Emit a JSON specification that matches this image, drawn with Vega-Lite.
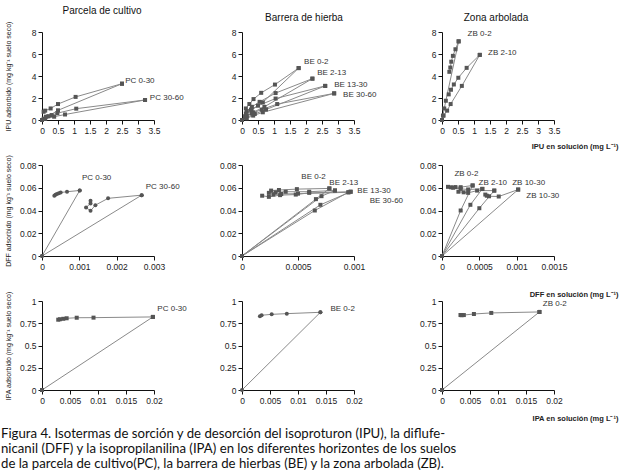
{
"$schema":"https://vega.github.io/schema/vega-lite/v6.json",
"padding":{"left":0,"top":6,"right":2,"bottom":2},
"background":"white",
"columns":3,
"bounds":"flush",
"spacing":{"column":88,"row":45},
"title":{"text":["Figura 4. Isotermas de sorción y de desorción del isoproturon (IPU), la diflufe-","nicanil (DFF) y la isopropilanilina (IPA) en los diferentes horizontes de los suelos","de la parcela de cultivo(PC), la barrera de hierbas (BE) y la zona arbolada (ZB)."],"orient":"bottom","anchor":"start","frame":"bounds","offset":6,"font":"Lato","fontSize":13.2,"fontWeight":"normal","lineHeight":15,"color":"#111","dx":-3},
"datasets":{
"iso":[
{"p":"IPU-PC","s":"PC 0-30","b":"a","i":0,"x":0,"y":0},{"p":"IPU-PC","s":"PC 0-30","b":"a","i":1,"x":0.05,"y":0.12},{"p":"IPU-PC","s":"PC 0-30","b":"a","i":2,"x":0.2,"y":0.35},{"p":"IPU-PC","s":"PC 0-30","b":"a","i":3,"x":0.5,"y":0.88},{"p":"IPU-PC","s":"PC 0-30","b":"a","i":4,"x":2.5,"y":3.3},
{"p":"IPU-PC","s":"PC 0-30","b":"d","i":0,"x":2.5,"y":3.3},{"p":"IPU-PC","s":"PC 0-30","b":"d","i":1,"x":1.05,"y":2.1},{"p":"IPU-PC","s":"PC 0-30","b":"d","i":2,"x":0.5,"y":1.45},{"p":"IPU-PC","s":"PC 0-30","b":"d","i":3,"x":0.27,"y":1.05},{"p":"IPU-PC","s":"PC 0-30","b":"d","i":4,"x":0.1,"y":0.85},{"p":"IPU-PC","s":"PC 0-30","b":"d","i":5,"x":0.05,"y":0.75},
{"p":"IPU-PC","s":"PC 30-60","b":"a","i":0,"x":0,"y":0},{"p":"IPU-PC","s":"PC 30-60","b":"a","i":1,"x":0.1,"y":0.1},{"p":"IPU-PC","s":"PC 30-60","b":"a","i":2,"x":0.38,"y":0.3},{"p":"IPU-PC","s":"PC 30-60","b":"a","i":3,"x":0.72,"y":0.5},{"p":"IPU-PC","s":"PC 30-60","b":"a","i":4,"x":3.22,"y":1.82},
{"p":"IPU-PC","s":"PC 30-60","b":"d","i":0,"x":3.22,"y":1.82},{"p":"IPU-PC","s":"PC 30-60","b":"d","i":1,"x":1.07,"y":1.03},{"p":"IPU-PC","s":"PC 30-60","b":"d","i":2,"x":0.48,"y":0.62},{"p":"IPU-PC","s":"PC 30-60","b":"d","i":3,"x":0.3,"y":0.45},{"p":"IPU-PC","s":"PC 30-60","b":"d","i":4,"x":0.12,"y":0.3},

{"p":"IPU-BE","s":"BE 0-2","b":"a","i":0,"x":0,"y":0},{"p":"IPU-BE","s":"BE 0-2","b":"a","i":1,"x":0.1,"y":0.35},{"p":"IPU-BE","s":"BE 0-2","b":"a","i":2,"x":0.3,"y":0.9},{"p":"IPU-BE","s":"BE 0-2","b":"a","i":3,"x":0.65,"y":1.6},{"p":"IPU-BE","s":"BE 0-2","b":"a","i":4,"x":1.77,"y":4.72},
{"p":"IPU-BE","s":"BE 0-2","b":"d","i":0,"x":1.77,"y":4.72},{"p":"IPU-BE","s":"BE 0-2","b":"d","i":1,"x":1.03,"y":3.22},{"p":"IPU-BE","s":"BE 0-2","b":"d","i":2,"x":0.6,"y":2.47},{"p":"IPU-BE","s":"BE 0-2","b":"d","i":3,"x":0.36,"y":1.9},{"p":"IPU-BE","s":"BE 0-2","b":"d","i":4,"x":0.23,"y":1.45},{"p":"IPU-BE","s":"BE 0-2","b":"d","i":5,"x":0.12,"y":1.05},
{"p":"IPU-BE","s":"BE 2-13","b":"a","i":0,"x":0,"y":0},{"p":"IPU-BE","s":"BE 2-13","b":"a","i":1,"x":0.1,"y":0.25},{"p":"IPU-BE","s":"BE 2-13","b":"a","i":2,"x":0.35,"y":0.7},{"p":"IPU-BE","s":"BE 2-13","b":"a","i":3,"x":0.7,"y":1.2},{"p":"IPU-BE","s":"BE 2-13","b":"a","i":4,"x":2.2,"y":3.76},
{"p":"IPU-BE","s":"BE 2-13","b":"d","i":0,"x":2.2,"y":3.76},{"p":"IPU-BE","s":"BE 2-13","b":"d","i":1,"x":1.05,"y":2.45},{"p":"IPU-BE","s":"BE 2-13","b":"d","i":2,"x":0.55,"y":1.65},{"p":"IPU-BE","s":"BE 2-13","b":"d","i":3,"x":0.31,"y":1.2},{"p":"IPU-BE","s":"BE 2-13","b":"d","i":4,"x":0.15,"y":0.8},
{"p":"IPU-BE","s":"BE 13-30","b":"a","i":0,"x":0,"y":0},{"p":"IPU-BE","s":"BE 13-30","b":"a","i":1,"x":0.12,"y":0.2},{"p":"IPU-BE","s":"BE 13-30","b":"a","i":2,"x":0.4,"y":0.55},{"p":"IPU-BE","s":"BE 13-30","b":"a","i":3,"x":0.75,"y":0.95},{"p":"IPU-BE","s":"BE 13-30","b":"a","i":4,"x":2.6,"y":3.1},
{"p":"IPU-BE","s":"BE 13-30","b":"d","i":0,"x":2.6,"y":3.1},{"p":"IPU-BE","s":"BE 13-30","b":"d","i":1,"x":1.05,"y":1.95},{"p":"IPU-BE","s":"BE 13-30","b":"d","i":2,"x":0.5,"y":1.3},{"p":"IPU-BE","s":"BE 13-30","b":"d","i":3,"x":0.28,"y":0.95},{"p":"IPU-BE","s":"BE 13-30","b":"d","i":4,"x":0.12,"y":0.6},
{"p":"IPU-BE","s":"BE 30-60","b":"a","i":0,"x":0,"y":0},{"p":"IPU-BE","s":"BE 30-60","b":"a","i":1,"x":0.15,"y":0.15},{"p":"IPU-BE","s":"BE 30-60","b":"a","i":2,"x":0.35,"y":0.4},{"p":"IPU-BE","s":"BE 30-60","b":"a","i":3,"x":0.65,"y":0.7},{"p":"IPU-BE","s":"BE 30-60","b":"a","i":4,"x":2.88,"y":2.42},
{"p":"IPU-BE","s":"BE 30-60","b":"d","i":0,"x":2.88,"y":2.42},{"p":"IPU-BE","s":"BE 30-60","b":"d","i":1,"x":1.1,"y":1.45},{"p":"IPU-BE","s":"BE 30-60","b":"d","i":2,"x":0.62,"y":0.95},{"p":"IPU-BE","s":"BE 30-60","b":"d","i":3,"x":0.3,"y":0.6},{"p":"IPU-BE","s":"BE 30-60","b":"d","i":4,"x":0.15,"y":0.4},

{"p":"IPU-ZB","s":"ZB 0-2","b":"a","i":0,"x":0,"y":0},{"p":"IPU-ZB","s":"ZB 0-2","b":"a","i":1,"x":0.03,"y":0.4},{"p":"IPU-ZB","s":"ZB 0-2","b":"a","i":2,"x":0.07,"y":1.05},{"p":"IPU-ZB","s":"ZB 0-2","b":"a","i":3,"x":0.12,"y":1.75},{"p":"IPU-ZB","s":"ZB 0-2","b":"a","i":4,"x":0.52,"y":7.15},
{"p":"IPU-ZB","s":"ZB 0-2","b":"d","i":0,"x":0.52,"y":7.15},{"p":"IPU-ZB","s":"ZB 0-2","b":"d","i":1,"x":0.42,"y":6.43},{"p":"IPU-ZB","s":"ZB 0-2","b":"d","i":2,"x":0.34,"y":5.83},{"p":"IPU-ZB","s":"ZB 0-2","b":"d","i":3,"x":0.29,"y":5.3},{"p":"IPU-ZB","s":"ZB 0-2","b":"d","i":4,"x":0.26,"y":4.77},{"p":"IPU-ZB","s":"ZB 0-2","b":"d","i":5,"x":0.23,"y":4.38},
{"p":"IPU-ZB","s":"ZB 2-10","b":"a","i":0,"x":0,"y":0},{"p":"IPU-ZB","s":"ZB 2-10","b":"a","i":1,"x":0.05,"y":0.4},{"p":"IPU-ZB","s":"ZB 2-10","b":"a","i":2,"x":0.16,"y":0.85},{"p":"IPU-ZB","s":"ZB 2-10","b":"a","i":3,"x":0.27,"y":1.45},{"p":"IPU-ZB","s":"ZB 2-10","b":"a","i":4,"x":0.62,"y":3.1},{"p":"IPU-ZB","s":"ZB 2-10","b":"a","i":5,"x":1.18,"y":5.92},
{"p":"IPU-ZB","s":"ZB 2-10","b":"d","i":0,"x":1.18,"y":5.92},{"p":"IPU-ZB","s":"ZB 2-10","b":"d","i":1,"x":0.77,"y":4.74},{"p":"IPU-ZB","s":"ZB 2-10","b":"d","i":2,"x":0.51,"y":3.84},{"p":"IPU-ZB","s":"ZB 2-10","b":"d","i":3,"x":0.37,"y":3.23},{"p":"IPU-ZB","s":"ZB 2-10","b":"d","i":4,"x":0.28,"y":2.75},{"p":"IPU-ZB","s":"ZB 2-10","b":"d","i":5,"x":0.21,"y":2.33},

{"p":"DFF-PC","s":"PC 0-30","b":"a","i":0,"x":0,"y":0},{"p":"DFF-PC","s":"PC 0-30","b":"a","i":1,"x":0.00101,"y":0.0576},
{"p":"DFF-PC","s":"PC 0-30","b":"d","i":0,"x":0.00101,"y":0.0576},{"p":"DFF-PC","s":"PC 0-30","b":"d","i":1,"x":0.00067,"y":0.0565},{"p":"DFF-PC","s":"PC 0-30","b":"d","i":2,"x":0.0005,"y":0.0558},{"p":"DFF-PC","s":"PC 0-30","b":"d","i":3,"x":0.00045,"y":0.0552},{"p":"DFF-PC","s":"PC 0-30","b":"d","i":4,"x":0.0004,"y":0.0545},{"p":"DFF-PC","s":"PC 0-30","b":"d","i":5,"x":0.00036,"y":0.0538},{"p":"DFF-PC","s":"PC 0-30","b":"d","i":6,"x":0.00033,"y":0.053},
{"p":"DFF-PC","s":"PC 30-60","b":"a","i":0,"x":0,"y":0},{"p":"DFF-PC","s":"PC 30-60","b":"a","i":1,"x":0.00267,"y":0.0535},
{"p":"DFF-PC","s":"PC 30-60","b":"d","i":0,"x":0.00267,"y":0.0535},{"p":"DFF-PC","s":"PC 30-60","b":"d","i":1,"x":0.00177,"y":0.0507},{"p":"DFF-PC","s":"PC 30-60","b":"d","i":2,"x":0.00143,"y":0.0447},{"p":"DFF-PC","s":"PC 30-60","b":"d","i":3,"x":0.0013,"y":0.0397},{"p":"DFF-PC","s":"PC 30-60","b":"d","i":4,"x":0.00118,"y":0.0426},{"p":"DFF-PC","s":"PC 30-60","b":"d","i":5,"x":0.0013,"y":0.0462},{"p":"DFF-PC","s":"PC 30-60","b":"d","i":6,"x":0.0013,"y":0.0485},

{"p":"DFF-BE","s":"BE 0-2","b":"a","i":0,"x":0,"y":0},{"p":"DFF-BE","s":"BE 0-2","b":"a","i":1,"x":0.00066,"y":0.05},{"p":"DFF-BE","s":"BE 0-2","b":"a","i":2,"x":0.00078,"y":0.0594},
{"p":"DFF-BE","s":"BE 0-2","b":"d","i":0,"x":0.00078,"y":0.0594},{"p":"DFF-BE","s":"BE 0-2","b":"d","i":1,"x":0.00049,"y":0.0588},{"p":"DFF-BE","s":"BE 0-2","b":"d","i":2,"x":0.00033,"y":0.058},{"p":"DFF-BE","s":"BE 0-2","b":"d","i":3,"x":0.00026,"y":0.0575},
{"p":"DFF-BE","s":"BE 2-13","b":"a","i":0,"x":0,"y":0},{"p":"DFF-BE","s":"BE 2-13","b":"a","i":1,"x":0.00071,"y":0.0526},{"p":"DFF-BE","s":"BE 2-13","b":"a","i":2,"x":0.00083,"y":0.0576},
{"p":"DFF-BE","s":"BE 2-13","b":"d","i":0,"x":0.00083,"y":0.0576},{"p":"DFF-BE","s":"BE 2-13","b":"d","i":1,"x":0.0006,"y":0.0565},{"p":"DFF-BE","s":"BE 2-13","b":"d","i":2,"x":0.00039,"y":0.0565},{"p":"DFF-BE","s":"BE 2-13","b":"d","i":3,"x":0.0003,"y":0.056},{"p":"DFF-BE","s":"BE 2-13","b":"d","i":4,"x":0.00024,"y":0.0555},
{"p":"DFF-BE","s":"BE 13-30","b":"a","i":0,"x":0,"y":0},{"p":"DFF-BE","s":"BE 13-30","b":"a","i":1,"x":0.0007,"y":0.045},{"p":"DFF-BE","s":"BE 13-30","b":"a","i":2,"x":0.00097,"y":0.0565},
{"p":"DFF-BE","s":"BE 13-30","b":"d","i":0,"x":0.00097,"y":0.0565},{"p":"DFF-BE","s":"BE 13-30","b":"d","i":1,"x":0.0006,"y":0.0555},{"p":"DFF-BE","s":"BE 13-30","b":"d","i":2,"x":0.00048,"y":0.054},{"p":"DFF-BE","s":"BE 13-30","b":"d","i":3,"x":0.00034,"y":0.0535},{"p":"DFF-BE","s":"BE 13-30","b":"d","i":4,"x":0.00024,"y":0.052},{"p":"DFF-BE","s":"BE 13-30","b":"d","i":5,"x":0.00018,"y":0.053},
{"p":"DFF-BE","s":"BE 30-60","b":"a","i":0,"x":0,"y":0},{"p":"DFF-BE","s":"BE 30-60","b":"a","i":1,"x":0.00065,"y":0.04},{"p":"DFF-BE","s":"BE 30-60","b":"a","i":2,"x":0.00095,"y":0.056},
{"p":"DFF-BE","s":"BE 30-60","b":"d","i":0,"x":0.00095,"y":0.056},{"p":"DFF-BE","s":"BE 30-60","b":"d","i":1,"x":0.0005,"y":0.0548},{"p":"DFF-BE","s":"BE 30-60","b":"d","i":2,"x":0.00035,"y":0.0545},{"p":"DFF-BE","s":"BE 30-60","b":"d","i":3,"x":0.00028,"y":0.054},

{"p":"DFF-ZB","s":"ZB 0-2","b":"a","i":0,"x":0,"y":0},{"p":"DFF-ZB","s":"ZB 0-2","b":"a","i":1,"x":0.00025,"y":0.04},{"p":"DFF-ZB","s":"ZB 0-2","b":"a","i":2,"x":0.00041,"y":0.062},
{"p":"DFF-ZB","s":"ZB 0-2","b":"d","i":0,"x":0.00041,"y":0.062},{"p":"DFF-ZB","s":"ZB 0-2","b":"d","i":1,"x":0.00025,"y":0.0605},{"p":"DFF-ZB","s":"ZB 0-2","b":"d","i":2,"x":0.00018,"y":0.0606},{"p":"DFF-ZB","s":"ZB 0-2","b":"d","i":3,"x":0.00012,"y":0.0604},{"p":"DFF-ZB","s":"ZB 0-2","b":"d","i":4,"x":0.00008,"y":0.0608},
{"p":"DFF-ZB","s":"ZB 2-10","b":"a","i":0,"x":0,"y":0},{"p":"DFF-ZB","s":"ZB 2-10","b":"a","i":1,"x":0.00038,"y":0.045},{"p":"DFF-ZB","s":"ZB 2-10","b":"a","i":2,"x":0.00054,"y":0.059},
{"p":"DFF-ZB","s":"ZB 2-10","b":"d","i":0,"x":0.00054,"y":0.059},{"p":"DFF-ZB","s":"ZB 2-10","b":"d","i":1,"x":0.00035,"y":0.0585},{"p":"DFF-ZB","s":"ZB 2-10","b":"d","i":2,"x":0.00025,"y":0.059},{"p":"DFF-ZB","s":"ZB 2-10","b":"d","i":3,"x":0.00015,"y":0.06},
{"p":"DFF-ZB","s":"ZB 10-30","b":"a","i":0,"x":0,"y":0},{"p":"DFF-ZB","s":"ZB 10-30","b":"a","i":1,"x":0.0005,"y":0.042},{"p":"DFF-ZB","s":"ZB 10-30","b":"a","i":2,"x":0.0007,"y":0.0575},
{"p":"DFF-ZB","s":"ZB 10-30","b":"d","i":0,"x":0.0007,"y":0.0575},{"p":"DFF-ZB","s":"ZB 10-30","b":"d","i":1,"x":0.00047,"y":0.0575},{"p":"DFF-ZB","s":"ZB 10-30","b":"d","i":2,"x":0.00035,"y":0.0555},{"p":"DFF-ZB","s":"ZB 10-30","b":"d","i":3,"x":0.00029,"y":0.056},{"p":"DFF-ZB","s":"ZB 10-30","b":"d","i":4,"x":0.00022,"y":0.0565},
{"p":"DFF-ZB","s":"ZB 10-30 b","b":"a","i":0,"x":0,"y":0},{"p":"DFF-ZB","s":"ZB 10-30 b","b":"a","i":1,"x":0.00102,"y":0.0584},
{"p":"DFF-ZB","s":"ZB 10-30 b","b":"d","i":0,"x":0.00102,"y":0.0584},{"p":"DFF-ZB","s":"ZB 10-30 b","b":"d","i":1,"x":0.00076,"y":0.0523},{"p":"DFF-ZB","s":"ZB 10-30 b","b":"d","i":2,"x":0.00063,"y":0.0525},{"p":"DFF-ZB","s":"ZB 10-30 b","b":"d","i":3,"x":0.0006,"y":0.053},{"p":"DFF-ZB","s":"ZB 10-30 b","b":"d","i":4,"x":0.00058,"y":0.054},

{"p":"IPA-PC","s":"PC 0-30","b":"a","i":0,"x":0,"y":0},{"p":"IPA-PC","s":"PC 0-30","b":"a","i":1,"x":0.0198,"y":0.821},
{"p":"IPA-PC","s":"PC 0-30","b":"d","i":0,"x":0.0198,"y":0.821},{"p":"IPA-PC","s":"PC 0-30","b":"d","i":1,"x":0.0092,"y":0.813},{"p":"IPA-PC","s":"PC 0-30","b":"d","i":2,"x":0.0062,"y":0.812},{"p":"IPA-PC","s":"PC 0-30","b":"d","i":3,"x":0.0044,"y":0.806},{"p":"IPA-PC","s":"PC 0-30","b":"d","i":4,"x":0.0038,"y":0.8},{"p":"IPA-PC","s":"PC 0-30","b":"d","i":5,"x":0.0032,"y":0.795},{"p":"IPA-PC","s":"PC 0-30","b":"d","i":6,"x":0.0029,"y":0.79},
{"p":"IPA-BE","s":"BE 0-2","b":"a","i":0,"x":0,"y":0},{"p":"IPA-BE","s":"BE 0-2","b":"a","i":1,"x":0.014,"y":0.873},
{"p":"IPA-BE","s":"BE 0-2","b":"d","i":0,"x":0.014,"y":0.873},{"p":"IPA-BE","s":"BE 0-2","b":"d","i":1,"x":0.008,"y":0.858},{"p":"IPA-BE","s":"BE 0-2","b":"d","i":2,"x":0.0053,"y":0.85},{"p":"IPA-BE","s":"BE 0-2","b":"d","i":3,"x":0.0035,"y":0.84},{"p":"IPA-BE","s":"BE 0-2","b":"d","i":4,"x":0.0032,"y":0.83},
{"p":"IPA-ZB","s":"ZB 0-2","b":"a","i":0,"x":0,"y":0},{"p":"IPA-ZB","s":"ZB 0-2","b":"a","i":1,"x":0.0174,"y":0.877},
{"p":"IPA-ZB","s":"ZB 0-2","b":"d","i":0,"x":0.0174,"y":0.877},{"p":"IPA-ZB","s":"ZB 0-2","b":"d","i":1,"x":0.0088,"y":0.866},{"p":"IPA-ZB","s":"ZB 0-2","b":"d","i":2,"x":0.0057,"y":0.854},{"p":"IPA-ZB","s":"ZB 0-2","b":"d","i":3,"x":0.0039,"y":0.842},{"p":"IPA-ZB","s":"ZB 0-2","b":"d","i":4,"x":0.0035,"y":0.84},{"p":"IPA-ZB","s":"ZB 0-2","b":"d","i":5,"x":0.0033,"y":0.843}
],
"lab":[
{"p":"IPU-PC","t":"PC 0-30","x":2.6,"y":3.58},{"p":"IPU-PC","t":"PC 30-60","x":3.37,"y":2.0},
{"p":"IPU-BE","t":"BE 0-2","x":1.94,"y":5.26},{"p":"IPU-BE","t":"BE 2-13","x":2.35,"y":4.3},{"p":"IPU-BE","t":"BE 13-30","x":2.88,"y":3.2},{"p":"IPU-BE","t":"BE 30-60","x":3.16,"y":2.26},
{"p":"IPU-ZB","t":"ZB 0-2","x":0.8,"y":7.85},{"p":"IPU-ZB","t":"ZB 2-10","x":1.44,"y":6.13},
{"p":"DFF-PC","t":"PC 0-30","x":0.00107,"y":0.069},{"p":"DFF-PC","t":"PC 30-60","x":0.00278,"y":0.0603},
{"p":"DFF-BE","t":"BE 0-2","x":0.00053,"y":0.0697},{"p":"DFF-BE","t":"BE 2-13","x":0.00078,"y":0.0638},{"p":"DFF-BE","t":"BE 13-30","x":0.00103,"y":0.057},{"p":"DFF-BE","t":"BE 30-60","x":0.00114,"y":0.048},
{"p":"DFF-ZB","t":"ZB 0-2","x":0.000166,"y":0.0721},{"p":"DFF-ZB","t":"ZB 2-10","x":0.00049,"y":0.0642},{"p":"DFF-ZB","t":"ZB 10-30","x":0.00094,"y":0.0642},{"p":"DFF-ZB","t":"ZB 10-30","x":0.00113,"y":0.0526},
{"p":"IPA-PC","t":"PC 0-30","x":0.0206,"y":0.914},
{"p":"IPA-BE","t":"BE 0-2","x":0.0158,"y":0.91},
{"p":"IPA-ZB","t":"ZB 0-2","x":0.018,"y":0.97}
]
},
"config":{
"view":{"stroke":null},
"font":"Liberation Sans",
"axis":{"grid":false,"domainColor":"#111","tickColor":"#111","tickSize":4,"labelFont":"Liberation Sans","labelFontSize":8.5,"labelColor":"#222","labelPadding":2,"labelFlush":false,"labelBound":false,"labelOverlap":false,"labelSeparation":0,"titleFont":"Liberation Sans","titleColor":"#222","titleFontWeight":"normal","titleFontSize":7},
"title":{"font":"Liberation Sans","fontSize":10,"fontWeight":"normal","color":"#111"},
"line":{"color":"#8a8a8a","strokeWidth":1},
"point":{"shape":"square","filled":true,"color":"#555","size":16,"opacity":1},
"text":{"font":"Liberation Sans","fontSize":8,"color":"#333","align":"left","baseline":"middle"}
},
"concat":[
{"width":112,"height":88,"title":{"text":"Parcela de cultivo","frame":"group","offset":5,"dx":4},
"encoding":{"x":{"field":"x","type":"quantitative","scale":{"domain":[0,3.5],"nice":false},"axis":{"values":[0,0.5,1,1.5,2,2.5,3,3.5],"labelOverlap":false,"labelExpr":"'' + datum.value","title":null}},"y":{"field":"y","type":"quantitative","scale":{"domain":[0,8],"nice":false},"axis":{"values":[0,2,4,6,8],"labelOverlap":false,"labelExpr":"'' + datum.value","title":"IPU adsorbido (mg kg⁻¹ suelo seco)","titleX":-34,"titleBaseline":"middle"}}},
"layer":[
{"data":{"name":"iso"},"transform":[{"filter":"datum.p=='IPU-PC'"}],"mark":"line","encoding":{"detail":[{"field":"s"},{"field":"b"}],"order":{"field":"i"}}},
{"data":{"name":"iso"},"transform":[{"filter":"datum.p=='IPU-PC'"}],"mark":"point"},
{"data":{"name":"lab"},"transform":[{"filter":"datum.p=='IPU-PC'"}],"mark":"text","encoding":{"text":{"field":"t"}}}
]},
{"width":112,"height":88,"title":{"text":"Barrera de hierba","frame":"group","offset":5,"dx":6},
"encoding":{"x":{"field":"x","type":"quantitative","scale":{"domain":[0,3.5],"nice":false},"axis":{"values":[0,0.5,1,1.5,2,2.5,3,3.5],"labelOverlap":false,"labelExpr":"'' + datum.value","title":null}},"y":{"field":"y","type":"quantitative","scale":{"domain":[0,8],"nice":false},"axis":{"values":[0,2,4,6,8],"labelOverlap":false,"labelExpr":"'' + datum.value","title":null}}},
"layer":[
{"data":{"name":"iso"},"transform":[{"filter":"datum.p=='IPU-BE'"}],"mark":"line","encoding":{"detail":[{"field":"s"},{"field":"b"}],"order":{"field":"i"}}},
{"data":{"name":"iso"},"transform":[{"filter":"datum.p=='IPU-BE'"}],"mark":"point"},
{"data":{"name":"lab"},"transform":[{"filter":"datum.p=='IPU-BE'"}],"mark":"text","encoding":{"text":{"field":"t"}}}
]},
{"width":112,"height":88,"title":{"text":"Zona arbolada","frame":"group","offset":5,"dx":-2},
"encoding":{"x":{"field":"x","type":"quantitative","scale":{"domain":[0,3.5],"nice":false},"axis":{"values":[0,0.5,1,1.5,2,2.5,3,3.5],"labelOverlap":false,"labelExpr":"'' + datum.value","title":"IPU en solución (mg L⁻¹)","titleX":176,"titleY":26,"titleAlign":"right","titleBaseline":"middle","titleFontWeight":"bold","titleFontSize":7.5}},"y":{"field":"y","type":"quantitative","scale":{"domain":[0,8],"nice":false},"axis":{"values":[0,2,4,6,8],"labelOverlap":false,"labelExpr":"'' + datum.value","title":null}}},
"layer":[
{"data":{"name":"iso"},"transform":[{"filter":"datum.p=='IPU-ZB'"}],"mark":"line","encoding":{"detail":[{"field":"s"},{"field":"b"}],"order":{"field":"i"}}},
{"data":{"name":"iso"},"transform":[{"filter":"datum.p=='IPU-ZB'"}],"mark":"point"},
{"data":{"name":"lab"},"transform":[{"filter":"datum.p=='IPU-ZB'"}],"mark":"text","encoding":{"text":{"field":"t"}}}
]},
{"width":112,"height":91,
"encoding":{"x":{"field":"x","type":"quantitative","scale":{"domain":[0,0.003],"nice":false},"axis":{"values":[0,0.001,0.002,0.003],"labelOverlap":false,"labelExpr":"'' + datum.value","title":null}},"y":{"field":"y","type":"quantitative","scale":{"domain":[0,0.08],"nice":false},"axis":{"values":[0,0.02,0.04,0.06,0.08],"labelOverlap":false,"labelExpr":"'' + datum.value","title":"DFF adsorbido (mg kg⁻¹ suelo seco)","titleX":-34,"titleBaseline":"middle"}}},
"layer":[
{"data":{"name":"iso"},"transform":[{"filter":"datum.p=='DFF-PC'"}],"mark":"line","encoding":{"detail":[{"field":"s"},{"field":"b"}],"order":{"field":"i"}}},
{"data":{"name":"iso"},"transform":[{"filter":"datum.p=='DFF-PC'"}],"mark":{"type":"point","shape":"circle"}},
{"data":{"name":"lab"},"transform":[{"filter":"datum.p=='DFF-PC'"}],"mark":"text","encoding":{"text":{"field":"t"}}}
]},
{"width":112,"height":91,
"encoding":{"x":{"field":"x","type":"quantitative","scale":{"domain":[0,0.001],"nice":false},"axis":{"values":[0,0.0005,0.001],"labelOverlap":false,"labelExpr":"'' + datum.value","title":null}},"y":{"field":"y","type":"quantitative","scale":{"domain":[0,0.08],"nice":false},"axis":{"values":[0,0.02,0.04,0.06,0.08],"labelOverlap":false,"labelExpr":"'' + datum.value","title":null}}},
"layer":[
{"data":{"name":"iso"},"transform":[{"filter":"datum.p=='DFF-BE'"}],"mark":"line","encoding":{"detail":[{"field":"s"},{"field":"b"}],"order":{"field":"i"}}},
{"data":{"name":"iso"},"transform":[{"filter":"datum.p=='DFF-BE'"}],"mark":"point"},
{"data":{"name":"lab"},"transform":[{"filter":"datum.p=='DFF-BE'"}],"mark":"text","encoding":{"text":{"field":"t"}}}
]},
{"width":112,"height":91,
"encoding":{"x":{"field":"x","type":"quantitative","scale":{"domain":[0,0.0015],"nice":false},"axis":{"values":[0,0.0005,0.001,0.0015],"labelOverlap":false,"labelExpr":"'' + datum.value","title":"DFF en solución (mg L⁻¹)","titleX":176,"titleY":38,"titleAlign":"right","titleBaseline":"middle","titleFontWeight":"bold","titleFontSize":7.5}},"y":{"field":"y","type":"quantitative","scale":{"domain":[0,0.08],"nice":false},"axis":{"values":[0,0.02,0.04,0.06,0.08],"labelOverlap":false,"labelExpr":"'' + datum.value","title":null}}},
"layer":[
{"data":{"name":"iso"},"transform":[{"filter":"datum.p=='DFF-ZB'"}],"mark":"line","encoding":{"detail":[{"field":"s"},{"field":"b"}],"order":{"field":"i"}}},
{"data":{"name":"iso"},"transform":[{"filter":"datum.p=='DFF-ZB'"}],"mark":"point"},
{"data":{"name":"lab"},"transform":[{"filter":"datum.p=='DFF-ZB'"}],"mark":"text","encoding":{"text":{"field":"t"}}}
]},
{"width":112,"height":89,
"encoding":{"x":{"field":"x","type":"quantitative","scale":{"domain":[0,0.02],"nice":false},"axis":{"values":[0,0.005,0.01,0.015,0.02],"labelOverlap":false,"labelExpr":"'' + datum.value","title":null}},"y":{"field":"y","type":"quantitative","scale":{"domain":[0,1],"nice":false},"axis":{"values":[0,0.25,0.5,0.75,1],"labelOverlap":false,"labelExpr":"'' + datum.value","title":"IPA adsorbido (mg kg⁻¹ suelo seco)","titleX":-34,"titleBaseline":"middle"}}},
"layer":[
{"data":{"name":"iso"},"transform":[{"filter":"datum.p=='IPA-PC'"}],"mark":"line","encoding":{"detail":[{"field":"s"},{"field":"b"}],"order":{"field":"i"}}},
{"data":{"name":"iso"},"transform":[{"filter":"datum.p=='IPA-PC'"}],"mark":"point"},
{"data":{"name":"lab"},"transform":[{"filter":"datum.p=='IPA-PC'"}],"mark":"text","encoding":{"text":{"field":"t"}}}
]},
{"width":112,"height":89,
"encoding":{"x":{"field":"x","type":"quantitative","scale":{"domain":[0,0.02],"nice":false},"axis":{"values":[0,0.005,0.01,0.015,0.02],"labelOverlap":false,"labelExpr":"'' + datum.value","title":null}},"y":{"field":"y","type":"quantitative","scale":{"domain":[0,1],"nice":false},"axis":{"values":[0,0.25,0.5,0.75,1],"labelOverlap":false,"labelExpr":"'' + datum.value","title":null}}},
"layer":[
{"data":{"name":"iso"},"transform":[{"filter":"datum.p=='IPA-BE'"}],"mark":"line","encoding":{"detail":[{"field":"s"},{"field":"b"}],"order":{"field":"i"}}},
{"data":{"name":"iso"},"transform":[{"filter":"datum.p=='IPA-BE'"}],"mark":{"type":"point","shape":"circle"}},
{"data":{"name":"lab"},"transform":[{"filter":"datum.p=='IPA-BE'"}],"mark":"text","encoding":{"text":{"field":"t"}}}
]},
{"width":112,"height":89,
"encoding":{"x":{"field":"x","type":"quantitative","scale":{"domain":[0,0.02],"nice":false},"axis":{"values":[0,0.005,0.01,0.015,0.02],"labelOverlap":false,"labelExpr":"'' + datum.value","title":"IPA en solución (mg L⁻¹)","titleX":176,"titleY":28,"titleAlign":"right","titleBaseline":"middle","titleFontWeight":"bold","titleFontSize":7.5}},"y":{"field":"y","type":"quantitative","scale":{"domain":[0,1],"nice":false},"axis":{"values":[0,0.25,0.5,0.75,1],"labelOverlap":false,"labelExpr":"'' + datum.value","title":null}}},
"layer":[
{"data":{"name":"iso"},"transform":[{"filter":"datum.p=='IPA-ZB'"}],"mark":"line","encoding":{"detail":[{"field":"s"},{"field":"b"}],"order":{"field":"i"}}},
{"data":{"name":"iso"},"transform":[{"filter":"datum.p=='IPA-ZB'"}],"mark":"point"},
{"data":{"name":"lab"},"transform":[{"filter":"datum.p=='IPA-ZB'"}],"mark":"text","encoding":{"text":{"field":"t"}}}
]}
]
}
